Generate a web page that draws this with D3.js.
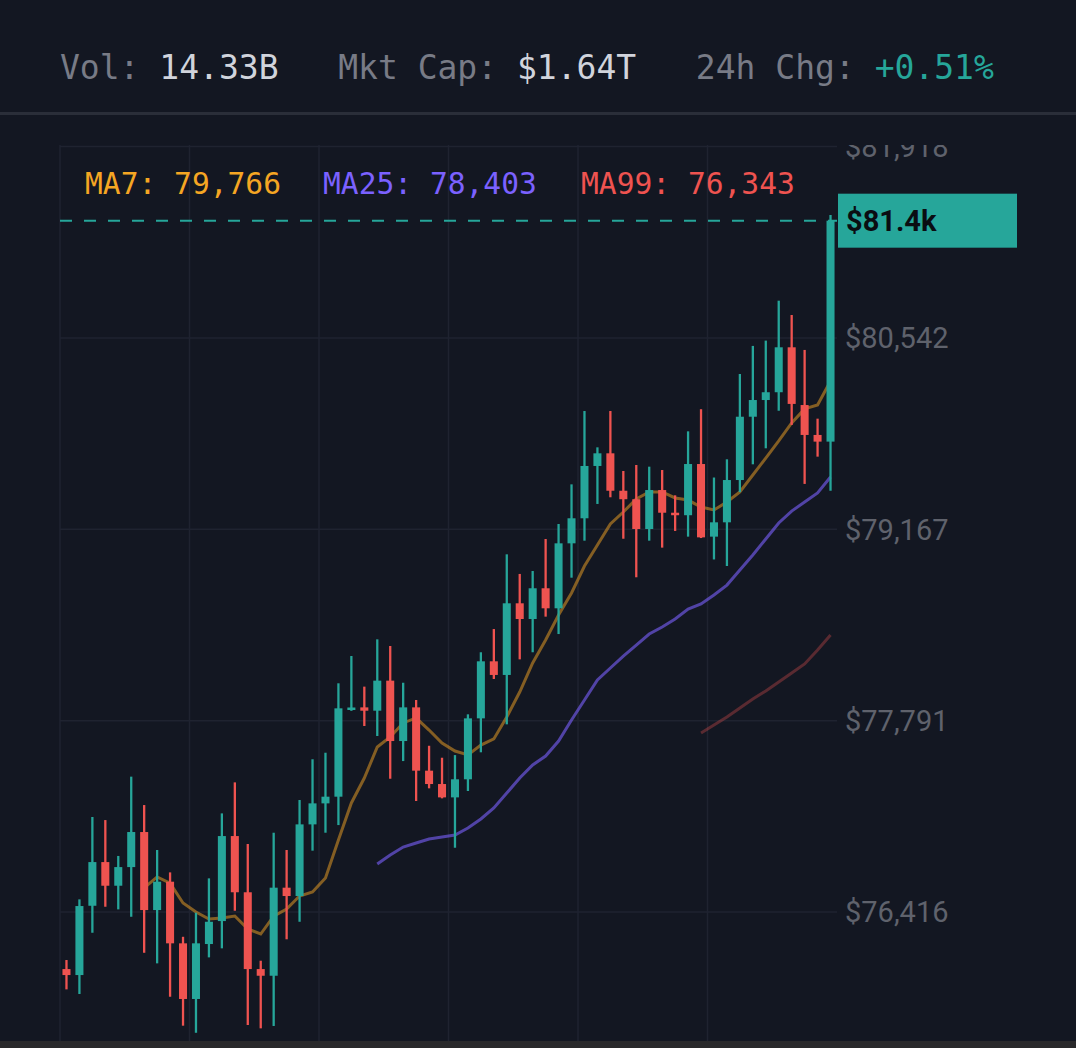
<!DOCTYPE html>
<html>
<head>
<meta charset="utf-8">
<script src="https://cdn.jsdelivr.net/npm/d3@7"></script>
<style>
  html, body { margin: 0; padding: 0; background: #131722; }
  svg { display: block; }
</style>
</head>
<body>
<div id="container"></div>
<script>
let w = 1076;
let h = 1048;

// DATA
let opens  = [76006, 75963, 76461, 76775, 76605, 76739, 76991, 76430, 76634, 76191,
              75791, 76186, 76351, 76962, 76558, 76006, 75958, 76591, 76531, 77046,
              77197, 77245, 77868, 77887, 77863, 78079, 77645, 77887, 77432, 77336,
              77240, 77370, 77808, 78218, 78120, 78635, 78522, 78743, 78599, 79066,
              79246, 79622, 79713, 79444, 79383, 79169, 79449, 79286, 79268, 79636,
              79114, 79217, 79521, 79976, 80096, 80152, 80475, 80060, 79845, 79797];
let highs  = [76071, 76507, 77099, 77077, 76819, 77389, 77185, 76862, 76701, 76238,
              76411, 76658, 77125, 77348, 76905, 76066, 76986, 76862, 77221, 77514,
              77561, 78060, 78256, 78036, 78376, 78328, 78064, 77940, 77611, 77525,
              77544, 77837, 78283, 78450, 78987, 78846, 78867, 79097, 79205, 79490,
              80017, 79756, 80017, 79586, 79629, 79617, 79593, 79411, 79871, 80030,
              79539, 79670, 80283, 80485, 80523, 80810, 80707, 80456, 79962, 81426];
let lows   = [75860, 75827, 76267, 76454, 76435, 76382, 76123, 76047, 75807, 75599,
              75548, 76090, 76155, 76425, 75604, 75580, 75597, 76220, 76346, 76857,
              76986, 77041, 77862, 77753, 77681, 77374, 77501, 77214, 77305, 77233,
              76878, 77286, 77564, 78091, 77765, 78232, 78283, 78539, 78414, 78819,
              79085, 79349, 79397, 79099, 78822, 79085, 79035, 79155, 79114, 79104,
              78950, 78903, 79434, 79634, 79749, 80019, 79917, 79493, 79689, 79444];
let closes = [75963, 76459, 76775, 76605, 76739, 76991, 76430, 76634, 76191, 75791,
              76191, 76346, 76962, 76558, 76006, 75958, 76591, 76531, 77046, 77197,
              77245, 77880, 77886, 77863, 78079, 77645, 77887, 77432, 77336, 77240,
              77370, 77808, 78218, 78120, 78635, 78522, 78743, 78599, 79066, 79246,
              79622, 79713, 79444, 79383, 79169, 79449, 79286, 79268, 79636, 79109,
              79217, 79521, 79976, 80096, 80152, 80475, 80068, 79845, 79797, 81385];

// moving average lines, as drawn (start index + values)
let ma7Start = 6;
let ma7 = [76589, 76668, 76624, 76481, 76416, 76366, 76373, 76387, 76294, 76258,
           76387, 76438, 76531, 76560, 76660, 76934, 77200, 77379, 77602, 77674,
           77775, 77811, 77724, 77631, 77573, 77545, 77616, 77660, 77818, 77997,
           78206, 78371, 78551, 78709, 78903, 79054, 79205, 79291, 79385, 79435,
           79435, 79392, 79377, 79327, 79306, 79363, 79435, 79557, 79679, 79802,
           79931, 80032, 80060, 80233];
let ma25Start = 24;
let ma25 = [76761, 76826, 76883, 76912, 76941, 76955, 76970, 77020, 77085, 77164,
            77271, 77379, 77473, 77537, 77645, 77796, 77940, 78084, 78170, 78256,
            78335, 78414, 78465, 78522, 78594, 78630, 78695, 78766, 78874, 78982,
            79097, 79212, 79298, 79363, 79428, 79543];
let ma99Start = 49;
let ma99 = [77703, 77760, 77818, 77882, 77947, 78005, 78069, 78134, 78199, 78299, 78407];

let yTicks = [81918, 80542, 79167, 77791, 76416];
let lastPrice = 81385;
let lastLabel = "$81.4k";

let headerParts = [
  {t: "Vol: ", c: "label"}, {t: "14.33B", c: "value"},
  {t: "   Mkt Cap: ", c: "label"}, {t: "$1.64T", c: "value"},
  {t: "   24h Chg: ", c: "label"}, {t: "+0.51%", c: "up"}
];
let maLabels = [
  {t: "MA7: 79,766", c: "#f5a623"},
  {t: "MA25: 78,403", c: "#7b61ff"},
  {t: "MA99: 76,343", c: "#ef5350"}
];

let up = "#26a69a";
let down = "#ef5350";
let gridColor = "#1f2330";

let plotLeft = 60, plotRight = 837, plotTop = 145, plotBottom = 1041;

let viz = d3.select("#container").append("svg")
    .attr("width", w)
    .attr("height", h)
    .style("background-color", "#131722");

// HEADER
let header = viz.append("text")
    .attr("x", 60)
    .attr("y", 79)
    .attr("font-family", "DejaVu Sans Mono")
    .attr("font-size", 33)
    .style("white-space", "pre");
header.selectAll("tspan").data(headerParts).enter()
  .append("tspan")
    .text(d => d.t)
    .attr("fill", d => d.c == "label" ? "#787b86" : (d.c == "up" ? up : "#d1d4dc"));

viz.append("rect")
    .attr("x", 0).attr("y", 112)
    .attr("width", w).attr("height", 3)
    .attr("fill", "#2a2e39");

// SCALES
let idx = d3.range(opens.length);
let xScale = d3.scaleBand().domain(idx).range([plotLeft, plotRight])
    .paddingInner(0.38).paddingOuter(0.19);
let yScale = d3.scaleLinear().domain([75489, 81929]).range([plotBottom, plotTop]);
let cx = i => xScale(i) + xScale.bandwidth() / 2;

// GRID
let vLines = idx.filter(i => i % 10 == 0);
viz.selectAll(".vgrid").data(vLines).enter()
  .append("line")
    .attr("class", "vgrid")
    .attr("x1", i => plotLeft + i * xScale.step())
    .attr("x2", i => plotLeft + i * xScale.step())
    .attr("y1", plotTop).attr("y2", plotBottom)
    .attr("stroke", gridColor).attr("stroke-width", 1.5);
viz.selectAll(".hgrid").data(yTicks).enter()
  .append("line")
    .attr("class", "hgrid")
    .attr("x1", plotLeft).attr("x2", plotRight)
    .attr("y1", d => yScale(d)).attr("y2", d => yScale(d))
    .attr("stroke", gridColor).attr("stroke-width", 1.5);

// Y AXIS LABELS (clipped at top of plot)
viz.append("clipPath").attr("id", "axisClip")
  .append("rect").attr("x", plotRight).attr("y", plotTop)
    .attr("width", w - plotRight).attr("height", plotBottom - plotTop);
viz.append("g").attr("clip-path", "url(#axisClip)")
  .selectAll("text").data(yTicks).enter()
  .append("text")
    .attr("x", 845)
    .attr("y", d => yScale(d))
    .attr("dy", "0.36em")
    .attr("font-family", "Roboto")
    .attr("font-size", 29)
    .attr("fill", "#5f626c")
    .text(d => "$" + d3.format(",")(d));

// MA LEGEND
let lx = [85, 323, 581];
viz.selectAll(".malabel").data(maLabels).enter()
  .append("text")
    .attr("class", "malabel")
    .attr("x", (d, i) => lx[i])
    .attr("y", 194)
    .attr("font-family", "DejaVu Sans Mono")
    .attr("font-size", 29.6)
    .attr("fill", d => d.c)
    .text(d => d.t);

// MA LINES
let lineMaker = start => d3.line()
    .x((d, i) => cx(start + i))
    .y(d => yScale(d));
viz.append("path").attr("d", lineMaker(ma99Start)(ma99))
    .attr("fill", "none").attr("stroke", "#ef5350").attr("stroke-opacity", 0.32).attr("stroke-width", 3);
viz.append("path").attr("d", lineMaker(ma25Start)(ma25))
    .attr("fill", "none").attr("stroke", "#7b61ff").attr("stroke-opacity", 0.6).attr("stroke-width", 3);
viz.append("path").attr("d", lineMaker(ma7Start)(ma7))
    .attr("fill", "none").attr("stroke", "#f5a623").attr("stroke-opacity", 0.5).attr("stroke-width", 3);

// LAST PRICE LINE
viz.append("line")
    .attr("x1", plotLeft).attr("x2", plotRight)
    .attr("y1", yScale(lastPrice)).attr("y2", yScale(lastPrice))
    .attr("stroke", up).attr("stroke-width", 2)
    .attr("stroke-dasharray", "12,12");

// CANDLES
let candles = viz.selectAll(".candle").data(idx).enter()
  .append("g").attr("class", "candle");
candles.append("line")
    .attr("x1", i => cx(i)).attr("x2", i => cx(i))
    .attr("y1", i => yScale(highs[i])).attr("y2", i => yScale(lows[i]))
    .attr("stroke", i => closes[i] >= opens[i] ? up : down)
    .attr("stroke-width", 2.3);
candles.append("rect")
    .attr("x", i => xScale(i))
    .attr("width", xScale.bandwidth())
    .attr("y", i => yScale(Math.max(opens[i], closes[i])))
    .attr("height", i => Math.max(2.5, Math.abs(yScale(opens[i]) - yScale(closes[i]))))
    .attr("fill", i => closes[i] >= opens[i] ? up : down);

// LAST PRICE TAG
viz.append("rect")
    .attr("x", 838).attr("y", yScale(lastPrice) - 27)
    .attr("width", 179).attr("height", 54)
    .attr("fill", up);
viz.append("text")
    .attr("x", 846)
    .attr("y", yScale(lastPrice))
    .attr("dy", "0.36em")
    .attr("font-family", "Roboto")
    .attr("font-weight", "bold")
    .attr("font-size", 29)
    .attr("fill", "#0a0d12")
    .text(lastLabel);

// bottom strip
viz.append("rect")
    .attr("x", 0).attr("y", plotBottom)
    .attr("width", w).attr("height", h - plotBottom)
    .attr("fill", "#29292b");
</script>
</body>
</html>
